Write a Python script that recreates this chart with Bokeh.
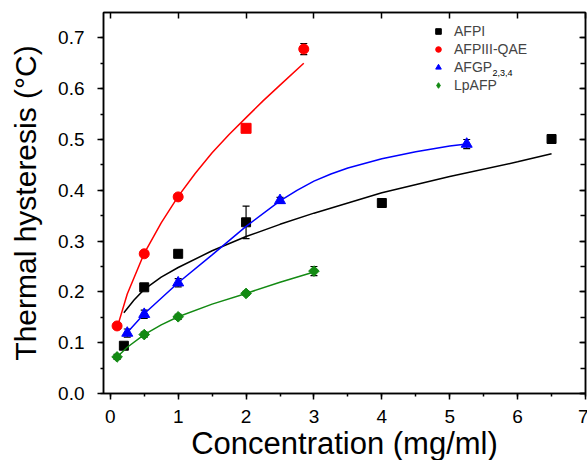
import numpy as np
from bokeh.plotting import figure
from bokeh.models import (ColumnDataSource, Range1d, LinearAxis, SingleIntervalTicker,
                          Whisker, TeeHead, Legend, LegendItem, NumeralTickFormatter,
                          CustomJSTickFormatter, Label)
from bokeh.embed import file_html
from bokeh.resources import INLINE

# ---------------- data ----------------
afpi_x = [0.2, 0.5, 1.0, 2.0, 4.0, 6.5]
afpi_y = [0.094, 0.209, 0.275, 0.337, 0.375, 0.501]
afpi_err = [0.006, 0.005, 0.004, 0.032, 0.004, 0.005]
afpi_fit_x = [0.2, 0.35, 0.5, 0.75, 1.0, 1.5, 2.0, 2.5, 3.0, 4.0, 5.0, 6.0, 6.5]
afpi_fit_y = [0.159, 0.184, 0.205, 0.229, 0.248, 0.281, 0.309, 0.333, 0.355, 0.395, 0.427, 0.456, 0.472]

qae_x = [0.1, 0.5, 1.0, 2.0, 2.85]
qae_y = [0.133, 0.275, 0.387, 0.522, 0.678]
qae_err = [0.006, 0.004, 0.005, 0.006, 0.011]
qae_fit_x = [0.12, 0.25, 0.5, 0.75, 1.0, 1.25, 1.5, 1.75, 2.0, 2.25, 2.5, 2.85]
qae_fit_y = [0.138, 0.196, 0.276, 0.336, 0.388, 0.433, 0.474, 0.510, 0.543, 0.576, 0.607, 0.650]

afgp_x = [0.25, 0.5, 1.0, 2.5, 5.25]
afgp_y = [0.119, 0.156, 0.218, 0.380, 0.491]
afgp_err = [0.008, 0.008, 0.008, 0.006, 0.009]
afgp_fit_x = [0.25, 0.5, 1.0, 1.5, 2.0, 2.5, 2.75, 3.0, 3.25, 3.5, 4.0, 4.5, 5.0, 5.25]
afgp_fit_y = [0.120, 0.157, 0.218, 0.273, 0.329, 0.379, 0.400, 0.418, 0.432, 0.444, 0.462, 0.476, 0.487, 0.491]

lp_x = [0.1, 0.5, 1.0, 2.0, 3.0]
lp_y = [0.072, 0.116, 0.151, 0.197, 0.241]
lp_err = [0.005, 0.005, 0.005, 0.004, 0.009]
lp_fit_x = [0.1, 0.25, 0.5, 0.75, 1.0, 1.5, 2.0, 2.5, 3.0]
lp_fit_y = [0.072, 0.091, 0.116, 0.135, 0.151, 0.176, 0.197, 0.219, 0.239]

labels = ["AFPI", "AFPIII-QAE", "AFGP", "LpAFP"]
afgp_subscript = "2,3,4"
x_title = "Concentration (mg/ml)"
y_title = "Thermal hysteresis (\u00b0C)"

# ---------------- figure ----------------
FONT = "Liberation Sans"
p = figure(width=588, height=463, x_range=Range1d(-0.1, 7), y_range=Range1d(0, 0.75),
           output_backend="svg", toolbar_location=None,
           min_border_left=103, min_border_right=3, min_border_top=12, min_border_bottom=60)
p.grid.visible = False
p.outline_line_color = "black"
p.outline_line_width = 1.5
p.background_fill_color = "white"
p.border_fill_color = "white"

xa = p.xaxis[0]
xa.ticker = SingleIntervalTicker(interval=1, num_minor_ticks=2)
xa.axis_label = x_title
ya = p.yaxis[0]
ya.ticker = SingleIntervalTicker(interval=0.1, num_minor_ticks=2)
ya.formatter = NumeralTickFormatter(format="0.0")
ya.axis_label = y_title

for ax in (xa, ya):
    ax.axis_line_width = 1.5
    ax.major_tick_line_width = 1.5
    ax.minor_tick_line_width = 1.5
    ax.major_tick_out = 6
    ax.major_tick_in = 0
    ax.minor_tick_out = 3
    ax.minor_tick_in = 0
    ax.major_label_text_font = FONT
    ax.major_label_text_font_size = "19px"
    ax.major_label_text_color = "black"
    ax.axis_label_text_font = FONT
    ax.axis_label_text_font_style = "normal"
    ax.axis_label_text_color = "black"
xa.axis_label_text_font_size = "31px"
ya.axis_label_text_font_size = "30px"
xa.major_label_standoff = 10
xa.axis_label_standoff = 0
ya.major_label_standoff = 13
ya.axis_label_standoff = 13

blank = CustomJSTickFormatter(code="return ''")
top = LinearAxis(ticker=SingleIntervalTicker(interval=1, num_minor_ticks=0),
                 formatter=blank,
                 major_tick_in=6, major_tick_out=0, minor_tick_in=0, minor_tick_out=0,
                 major_label_text_font_size="1px", major_label_standoff=0,
                 axis_line_width=1.5, major_tick_line_width=1.5)
p.add_layout(top, "above")
right = LinearAxis(ticker=SingleIntervalTicker(interval=0.1, num_minor_ticks=2),
                   formatter=blank,
                   major_tick_in=6, major_tick_out=0, minor_tick_in=5, minor_tick_out=0,
                   major_label_text_font_size="1px", major_label_standoff=0,
                   axis_line_width=1.5, major_tick_line_width=1.5, minor_tick_line_width=1.5)
p.add_layout(right, "right")

GREEN = "#138a13"
series = [
    (afpi_x, afpi_y, afpi_err, afpi_fit_x, afpi_fit_y, "black", "square", 9, 0.0),
    (qae_x, qae_y, qae_err, qae_fit_x, qae_fit_y, "#ff0000", "circle", 10, 0.0),
    (afgp_x, afgp_y, afgp_err, afgp_fit_x, afgp_fit_y, "#0000ff", "triangle", 11, 0.0),
    (lp_x, lp_y, lp_err, lp_fit_x, lp_fit_y, GREEN, "square", 7.5, np.pi / 4),
]
red_markers = ["circle", "circle", "circle", "square", "circle"]

legend_items = []
for i, (xs, ys, es, fx, fy, col, mk, sz, ang) in enumerate(series):
    p.line(fx, fy, line_color=col, line_width=1.5)
    src = ColumnDataSource(dict(x=xs, y=ys,
                                lo=[a - b for a, b in zip(ys, es)],
                                hi=[a + b for a, b in zip(ys, es)]))
    if i == 1:
        src.data["m"] = red_markers
        r = p.scatter("x", "y", source=src, marker="m", size=sz, fill_color=col,
                      line_color=col)
    else:
        r = p.scatter("x", "y", source=src, marker=mk, size=sz, angle=ang,
                      fill_color=col, line_color=col)
    w = Whisker(base="x", lower="lo", upper="hi", source=src, line_color="black",
                line_width=1.2,
                upper_head=TeeHead(size=7, line_color="black", line_width=1.2),
                lower_head=TeeHead(size=7, line_color="black", line_width=1.2))
    p.add_layout(w)
    if i == 3:
        # hidden renderer used only for the diamond legend swatch
        r = p.scatter("x", "y", source=src, marker="diamond", size=11,
                      fill_color=col, line_color=col, visible=False)
    legend_items.append(LegendItem(label=labels[i], renderers=[r]))

leg = Legend(items=legend_items, location=(328, 300), border_line_color=None,
             background_fill_alpha=0, label_text_font=FONT, label_text_font_size="14px",
             glyph_width=14, glyph_height=14, label_height=14, spacing=2, padding=0,
             margin=0, label_standoff=9)
p.add_layout(leg)

sub = Label(x=5.63, y=0.625, text=afgp_subscript, text_font=FONT, text_font_size="9px",
            text_color="black", text_baseline="bottom", text_align="left")
p.add_layout(sub)

open("out.html", "w").write(file_html(p, INLINE))
